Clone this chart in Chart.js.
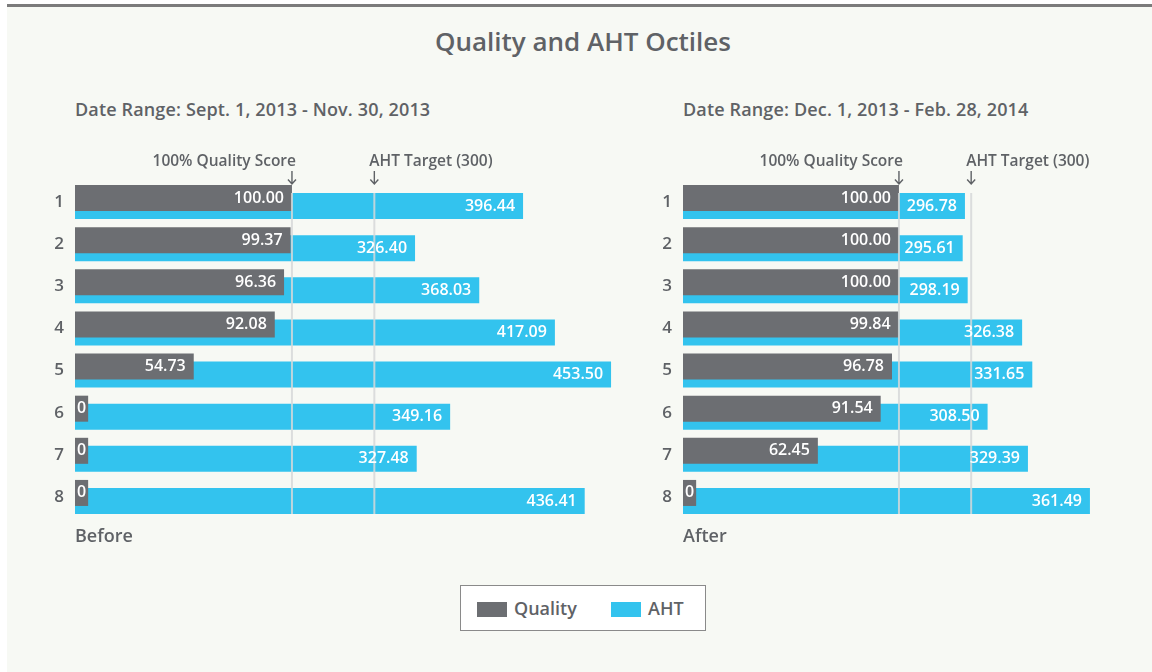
<!DOCTYPE html>
<html>
<head>
<meta charset="utf-8">
<script src="https://cdn.jsdelivr.net/npm/chart.js@4.4.0/dist/chart.umd.min.js"></script>
<style>
  body { margin: 0; width: 1152px; height: 672px; background: #fff; position: relative; overflow: hidden;
         font-family: "Open Sans", sans-serif; color: #5f6266; }
  #page { position: absolute; left: 7px; top: 4px; right: 0; bottom: 0; background: #f7f9f4; border-top: 3px solid #7b7b7b; }
  .txt { position: absolute; white-space: nowrap; font-weight: 600; line-height: 1; }
  #title { left: 0; width: 1166px; text-align: center; top: 28px; font-size: 26px; }
  .range { top: 100px; font-size: 18px; letter-spacing: 0.15px; }
  .period { top: 526px; font-size: 18px; }
  canvas { position: absolute; top: 0; }
  #legend { position: absolute; left: 460px; top: 585px; width: 244px; height: 44px; background: #fff; border: 1px solid #8a8a8a; }
  .sw { position: absolute; top: 16px; width: 30px; height: 15px; }
  .lg { position: absolute; top: 13px; font-size: 18px; font-weight: 600; line-height: 1; }
</style>
</head>
<body>
<div id="page"></div>
<div class="txt" id="title">Quality and AHT Octiles</div>
<div class="txt range" style="left:75px">Date Range: Sept. 1, 2013 - Nov. 30, 2013</div>
<div class="txt range" style="left:683px">Date Range: Dec. 1, 2013 - Feb. 28, 2014</div>
<canvas id="before" width="630" height="672" style="left:0"></canvas>
<canvas id="after" width="544" height="672" style="left:608px"></canvas>
<div class="txt period" style="left:75px">Before</div>
<div class="txt period" style="left:683px">After</div>
<div id="legend">
  <div class="sw" style="left:16px;background:#6c6e72"></div>
  <div class="lg" style="left:53px">Quality</div>
  <div class="sw" style="left:150px;background:#33c3ee"></div>
  <div class="lg" style="left:187px">AHT</div>
</div>
<script>
const octiles = ['1', '2', '3', '4', '5', '6', '7', '8'];
const qualityBefore = [100.00, 99.37, 96.36, 92.08, 54.73, 0, 0, 0];
const ahtBefore = [396.44, 326.40, 368.03, 417.09, 453.50, 349.16, 327.48, 436.41];
const qualityAfter = [100.00, 100.00, 100.00, 99.84, 96.78, 91.54, 62.45, 0];
const ahtAfter = [296.78, 295.61, 298.19, 326.38, 331.65, 308.50, 329.39, 361.49];
const qualityTarget = 100;
const ahtTarget = 300;

const GRAY = '#6c6e72';
const CYAN = '#33c3ee';
const TEXT = '#5f6266';

// target lines + their captions
const targetLines = {
    id: 'targetLines',
    afterDatasetsDraw(chart) {
        const ctx = chart.ctx;
        const ahtMeta = chart.getDatasetMeta(1);
        const first = ahtMeta.data[0], last = ahtMeta.data[ahtMeta.data.length - 1];
        const top = first.y - first.height / 2;
        const bottom = last.y + last.height / 2;
        const qx = chart.scales.xq.getPixelForValue(qualityTarget);
        const ax = chart.scales.xa.getPixelForValue(ahtTarget);
        ctx.save();
        ctx.strokeStyle = 'rgba(214,216,216,0.85)';
        ctx.lineWidth = 2;
        [qx, ax].forEach(x => {
            ctx.beginPath();
            ctx.moveTo(x, top);
            ctx.lineTo(x, bottom);
            ctx.stroke();
        });
        ctx.fillStyle = TEXT;
        ctx.font = '600 15.5px "Open Sans"';
        ctx.textBaseline = 'alphabetic';
        ctx.textAlign = 'right';
        ctx.fillText('100% Quality Score', qx + 4, 165.5);
        ctx.textAlign = 'left';
        ctx.fillText('AHT Target (' + ahtTarget + ')', ax - 5, 165.5);
        ctx.strokeStyle = TEXT;
        ctx.lineWidth = 1.4;
        [qx, ax].forEach(x => {
            ctx.beginPath();
            ctx.moveTo(x, 171);
            ctx.lineTo(x, 184);
            ctx.moveTo(x - 4, 179.5);
            ctx.lineTo(x, 184);
            ctx.lineTo(x + 4, 179.5);
            ctx.stroke();
        });
        ctx.restore();
    }
};

// value labels inside the bar ends
const barLabels = {
    id: 'barLabels',
    afterDatasetsDraw(chart) {
        const ctx = chart.ctx;
        const left = chart.chartArea.left;
        ctx.save();
        ctx.font = '600 16px "Open Sans"';
        ctx.textBaseline = 'middle';
        chart.data.datasets.forEach((ds, i) => {
            chart.getDatasetMeta(i).data.forEach((bar, j) => {
                const v = ds.data[j];
                const text = v === 0 ? '0' : v.toFixed(2);
                const w = ctx.measureText(text).width;
                if (bar.x - 8 - w < left + 2) {
                    ctx.fillStyle = ds.backgroundColor;
                    ctx.fillRect(left, bar.y - bar.height / 2, w + 4, bar.height);
                    ctx.fillStyle = '#fff';
                    ctx.textAlign = 'left';
                    ctx.fillText(text, left + 2, bar.y);
                } else {
                    ctx.fillStyle = '#fff';
                    ctx.textAlign = 'right';
                    ctx.fillText(text, bar.x - 8, bar.y);
                }
            });
        });
        ctx.restore();
    }
};

function makePanel(id, quality, aht, qMax, ahtMin, ahtMax, padRight) {
    return new Chart(document.getElementById(id), {
        type: 'bar',
        data: {
            labels: octiles,
            datasets: [
                { label: 'Quality', data: quality, xAxisID: 'xq', backgroundColor: GRAY },
                { label: 'AHT', data: aht, xAxisID: 'xa', base: ahtMin, backgroundColor: CYAN }
            ]
        },
        options: {
            indexAxis: 'y',
            responsive: false,
            animation: false,
            events: [],
            categoryPercentage: 0.38,
            barPercentage: 3.25,
            layout: { padding: { top: 181, bottom: 154, left: 0, right: padRight } },
            plugins: { legend: { display: false }, tooltip: { enabled: false } },
            scales: {
                xq: { type: 'linear', position: 'bottom', display: false, min: 0, max: qMax },
                xa: { type: 'linear', position: 'top', display: false, min: ahtMin, max: ahtMax },
                y: {
                    grid: { display: false, drawTicks: false },
                    border: { display: false },
                    ticks: { color: TEXT, padding: 11, font: { family: 'Open Sans', size: 17, weight: 600 } },
                    afterFit(scale) { scale.width = 75; }
                }
            }
        },
        plugins: [targetLines, barLabels]
    });
}

// chart area: before 75..620 (545px), after 683..1100 (417px)
makePanel('before', qualityBefore, ahtBefore, 251.2, 105.9, 459.3, 10);
makePanel('after', qualityAfter, ahtAfter, 193.1, 150.8, 366.7, 52);
</script>
</body>
</html>
